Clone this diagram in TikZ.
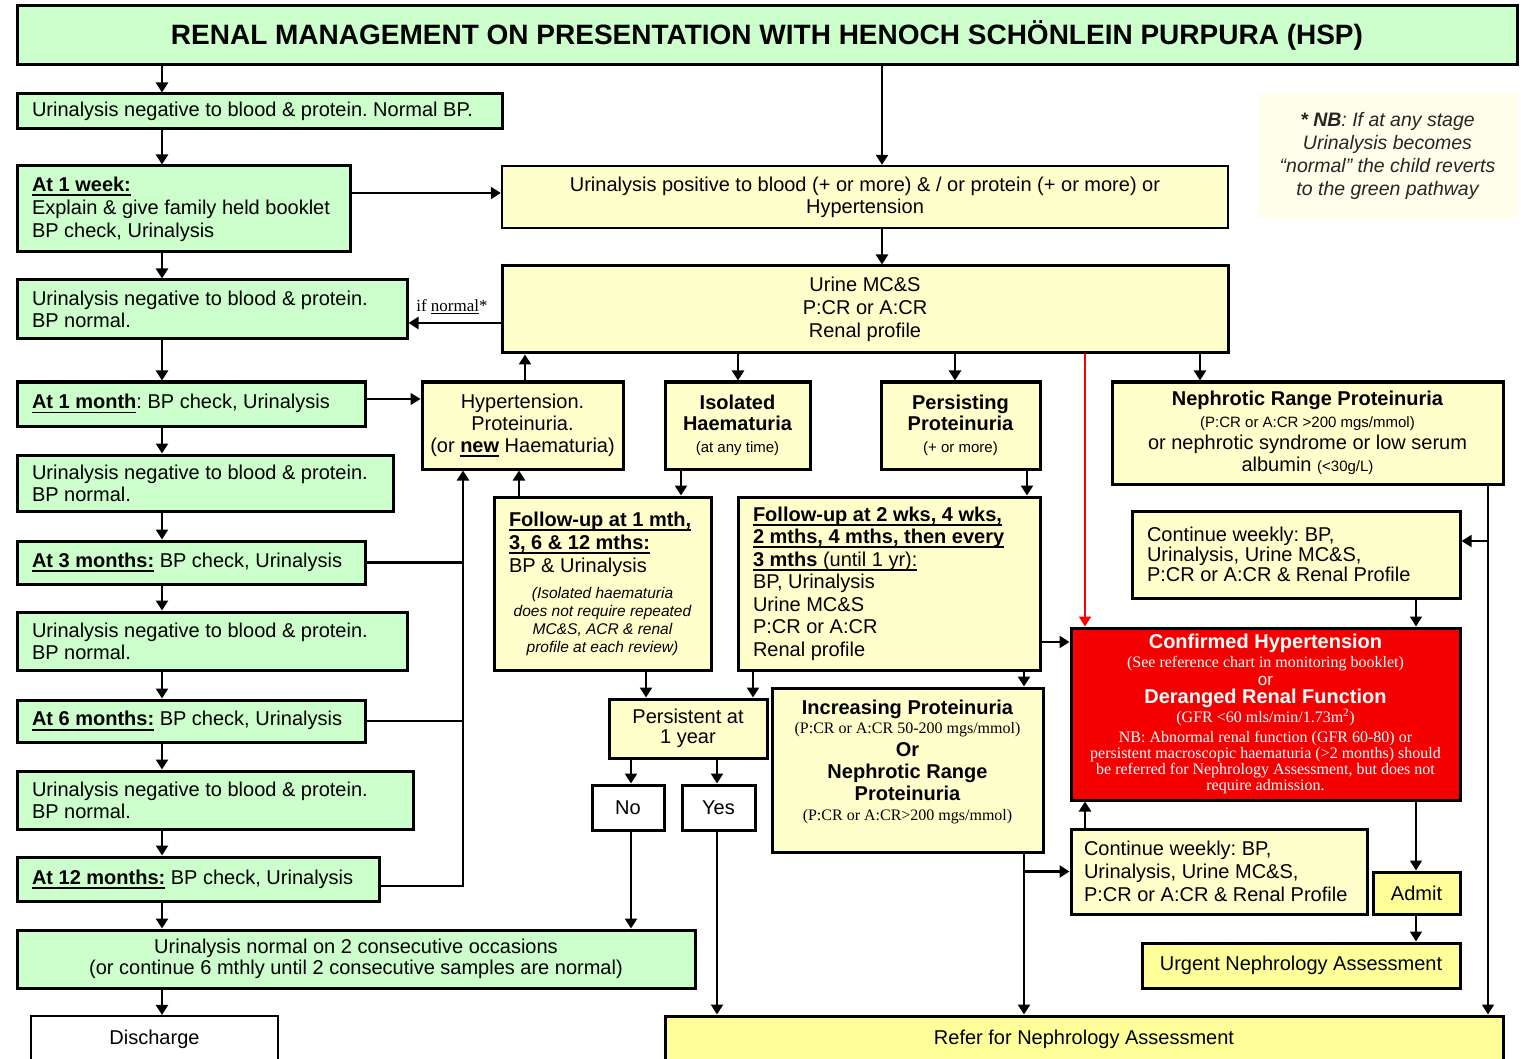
\documentclass[tikz,border=0pt]{standalone}
\usepackage{fontspec}
\setmainfont{Liberation Sans}
\newfontfamily\serfam{Liberation Serif}
\usetikzlibrary{arrows.meta,calc}
\definecolor{gfill}{RGB}{204,255,204}
\definecolor{yfill}{RGB}{255,255,204}
\definecolor{yfill2}{RGB}{255,255,153}
\definecolor{rfill}{RGB}{245,0,0}
\definecolor{notefill}{RGB}{254,254,234}
\newcommand{\setfs}[2]{\fontsize{#1}{#2}\selectfont}
% heavy underline sitting a little below the baseline
\newcommand{\uln}[1]{\leavevmode\setbox0\hbox{#1}\rlap{\rule[-4.5pt]{\wd0}{1.8pt}}\box0}
\frenchspacing
\hyphenpenalty=10000
\exhyphenpenalty=10000

\begin{document}
\begin{tikzpicture}[x=1pt,y=-1pt,
  box/.style={draw=black, line width=3pt, inner ysep=1pt, inner xsep=4pt, font=\setfs{20}{23}, text=black},
  gbox/.style={box, fill=gfill},
  ybox/.style={box, fill=yfill},
  bbox/.style={box, fill=yfill2},
  wbox/.style={box, fill=white},
  lft/.style={align=flush left, inner xsep=15pt, text width=#1pt},
  ctr/.style={align=flush center, text width=#1pt},
  arr/.style={line width=2.4pt, -{Triangle[length=10pt,width=12pt]}},
  tarr/.style={line width=1.5pt, -{Triangle[length=10pt,width=12pt]}},
  redarr/.style={line width=2pt, draw=red, -{Triangle[length=10pt,width=12pt]}},
  ln/.style={line width=2.4pt},
]
\fill[white] (0,0) rectangle (1524,1059);
\useasboundingbox (0,0) rectangle (1524,1059);

% ---------- title ----------
\node[gbox, minimum width=1500, minimum height=59, font=\setfs{28}{30}\bfseries] (title) at (767,35.5)
  {RENAL MANAGEMENT ON PRESENTATION WITH HENOCH SCHÖNLEIN PURPURA (HSP)};

% ---------- green pathway ----------
\node[gbox, lft=455, minimum width=485, minimum height=35] (b1) at (259.5,111.5)
  {Urinalysis negative to blood \& protein. Normal BP.};
\node[gbox, lft=303, minimum width=333, minimum height=86] (b2) at (183.5,209)
  {{\bfseries\uln{At 1 week:}}\\Explain \& give family held booklet\\BP check, Urinalysis};
\node[gbox, lft=360, minimum width=390, minimum height=59, font=\setfs{20}{22}] (b3) at (212,309.5)
  {Urinalysis negative to blood \& protein.\\BP normal.};
\node[gbox, lft=318, minimum width=348, minimum height=44] (b4) at (191,404)
  {{\bfseries\uln{At 1 month}}: BP check, Urinalysis};
\node[gbox, lft=346, minimum width=376, minimum height=56, font=\setfs{20}{22}] (b5) at (205,483)
  {Urinalysis negative to blood \& protein.\\BP normal.};
\node[gbox, lft=318, minimum width=348, minimum height=43] (b6) at (191,562.5)
  {{\bfseries\uln{At 3 months:}} BP check, Urinalysis};
\node[gbox, lft=360, minimum width=390, minimum height=58, font=\setfs{20}{22}] (b7) at (212,641)
  {Urinalysis negative to blood \& protein.\\BP normal.};
\node[gbox, lft=318, minimum width=348, minimum height=42] (b8) at (191,721)
  {{\bfseries\uln{At 6 months:}} BP check, Urinalysis};
\node[gbox, lft=366, minimum width=396, minimum height=58, font=\setfs{20}{22}] (b9) at (215,800)
  {Urinalysis negative to blood \& protein.\\BP normal.};
\node[gbox, lft=332, minimum width=362, minimum height=44] (b10) at (198,879)
  {{\bfseries\uln{At 12 months:}} BP check, Urinalysis};
\node[gbox, ctr=660, minimum width=678, minimum height=58, font=\setfs{20}{21}] (b11) at (356,959)
  {Urinalysis normal on 2 consecutive occasions\\(or continue 6 mthly until 2 consecutive samples are normal)};
\node[wbox, line width=2.2pt, minimum width=247, minimum height=47] (dis) at (154.5,1039.5) {Discharge};

% ---------- investigation ----------
\node[ybox, line width=2.4pt, ctr=700, minimum width=726, minimum height=62, font=\setfs{20}{22}] (upos) at (865,197)
  {Urinalysis positive to blood (+ or more) \& / or protein (+ or more) or\\Hypertension};
\node[ybox, ctr=700, minimum width=726, minimum height=87] (mcs) at (865,309.5)
  {Urine MC\&S\\P:CR or A:CR\\Renal profile};
\node[font=\serfam\setfs{17}{18}, anchor=base, inner sep=0pt] (ifn) at (452,312) {if \underline{normal}*};

\node[ybox, ctr=192, minimum width=201, minimum height=87, font=\setfs{20}{22}] (ht) at (522.5,425.5)
  {Hypertension.\\Proteinuria.\\(or {\bfseries\uln{new}} Haematuria)};
\node[ybox, ctr=135, minimum width=145, minimum height=87, font=\setfs{20}{21}] (iso) at (737.5,425.5)
  {{\bfseries Isolated\\Haematuria}\par{\setfs{15}{22}(at any time)\par}};
\node[ybox, ctr=150, minimum width=159, minimum height=87, font=\setfs{20}{21}] (pers) at (960.5,425.5)
  {{\bfseries Persisting\\Proteinuria}\par{\setfs{15}{22}(+ or more)\par}};
\node[ybox, ctr=380, minimum width=391, minimum height=102, font=\setfs{20}{22}] (neph) at (1307.5,433)
  {{\bfseries Nephrotic Range Proteinuria\par}
   {\setfs{15}{22}(P:CR or A:CR >200 mgs/mmol)\par}
   or nephrotic syndrome or low serum\\albumin {\setfs{15}{22}(<30g/L)}\par};

% ---------- follow-up ----------
\node[ybox, lft=187, minimum width=217, minimum height=173] (fu1) at (602.5,583.5)
  {{\bfseries\uln{Follow-up at 1 mth,}}\\{\bfseries\uln{3, 6 \& 12 mths:}}\\BP \& Urinalysis\par\vspace{8pt}
   {\centering\itshape\setfs{15.5}{18}(Isolated haematuria\\does not require repeated\\MC\&S, ACR \& renal\\profile at each review)\par}};
\node[ybox, lft=272, minimum width=302, minimum height=173, font=\setfs{20}{22.5}] (fu2) at (889,583.5)
  {{\bfseries\uln{Follow-up at 2 wks, 4 wks,}}\\{\bfseries\uln{2 mths, 4 mths, then every}}\\\uln{{\bfseries 3 mths} (until 1 yr):}\\BP, Urinalysis\\Urine MC\&S\\P:CR or A:CR\\Renal profile};
\node[ybox, ctr=150, minimum width=158, minimum height=59, font=\setfs{20}{20}] (p1y) at (688,728.5)
  {Persistent at\\1 year};
\node[wbox, minimum width=72, minimum height=45] (no) at (628,807.5) {No};
\node[wbox, minimum width=73, minimum height=45] (yes) at (718.5,807.5) {Yes};
\node[ybox, ctr=260, minimum width=271, minimum height=164] (inc) at (907.5,770)
  {{\bfseries Increasing Proteinuria\par}
   {\serfam\setfs{16}{19}(P:CR or A:CR 50-200 mgs/mmol)\par}
   {\bfseries\setfs{20}{23}Or\par}
   {\bfseries\setfs{20}{22}Nephrotic Range\\Proteinuria\par}
   {\serfam\setfs{16}{20}(P:CR or A:CR>200 mgs/mmol)\par}\vspace{16pt}};

% ---------- escalation ----------
\node[ybox, lft=298, minimum width=328, minimum height=87, font=\setfs{20}{20}] (cw1) at (1296,554.5)
  {Continue weekly: BP,\\Urinalysis, Urine MC\&S,\\P:CR or A:CR \& Renal Profile};
\node[box, fill=rfill, text=white, ctr=375, minimum width=389, minimum height=172] (red) at (1265.5,714)
  {{\bfseries Confirmed Hypertension\par}
   {\serfam\setfs{16}{19}(See reference chart in monitoring booklet)\par}
   {\setfs{17}{18}or\par}
   {\bfseries\setfs{20}{18}Deranged Renal Function\par}
   {\serfam\setfs{16}{19}(GFR <60 mls/min/1.73m\textsuperscript{2})\par}
   {\serfam\setfs{16}{20}NB: Abnormal renal function (GFR 60-80) or\par}
   {\serfam\setfs{16}{16}persistent macroscopic haematuria (>2 months) should\\be referred for Nephrology Assessment, but does not\\require admission.\par}};
\node[ybox, lft=270, inner xsep=13pt, minimum width=296, minimum height=85, font=\setfs{20}{23}] (cw2) at (1219,871.5)
  {Continue weekly: BP,\\Urinalysis, Urine MC\&S,\\P:CR or A:CR \& Renal Profile};
\node[bbox, minimum width=87, minimum height=42] (admit) at (1416.5,893) {Admit};
\node[bbox, minimum width=318, minimum height=45] (urg) at (1301,965.5) {Urgent Nephrology Assessment};
\node[bbox, minimum width=838, minimum height=47] (refer) at (1084,1039.5) {Refer for Nephrology Assessment};

% ---------- note ----------
\node[fill=notefill, minimum width=259, minimum height=124, align=flush center, text width=250pt,
      font=\setfs{19.5}{23}\itshape, text={black!85}] (note) at (1387.5,156)
  {{\bfseries * NB}: If at any stage\\Urinalysis becomes\\“normal” the child reverts\\to the green pathway};

% ---------- connector columns and rows ----------
\coordinate (cL) at (162,0);
\coordinate (cMain) at (882,0);
\coordinate (cHT) at (525,0);
\coordinate (cIso) at (738,0);
\coordinate (cPer) at (955,0);
\coordinate (cNep) at (1200,0);
\coordinate (cRed) at (1085,0);
\coordinate (cNr) at (1488,0);
\coordinate (cHin) at (463,0);
\coordinate (cFup) at (519,0);
\coordinate (cIdn) at (681,0);
\coordinate (cPdn) at (1027,0);
\coordinate (cFa) at (646,0);
\coordinate (cFb) at (753,0);
\coordinate (cNo) at (631,0);
\coordinate (cYes) at (717,0);
\coordinate (cInc) at (1024,0);
\coordinate (cAdm) at (1416,0);
\coordinate (rB2) at (0,193);
\coordinate (rIfn) at (0,323);
\coordinate (rB4) at (0,399);
\coordinate (rB10) at (0,886);
\coordinate (rFu) at (0,642);
\coordinate (rCw) at (0,541);

% ---------- connectors ----------
\foreach \a/\b in {title/b1,b1/b2,b2/b3,b3/b4,b4/b5,b5/b6,b6/b7,b7/b8,b8/b9,b9/b10,b10/b11,b11/dis}
  \draw[arr] (\a.south -| cL) -- (\b.north -| cL);
\draw[arr] (title.south -| cMain) -- (upos.north -| cMain);
\draw[arr] (upos.south -| cMain) -- (mcs.north -| cMain);
\draw[arr] (b2.east |- rB2) -- (upos.west |- rB2);
\draw[arr] (mcs.west |- rIfn) -- (b3.east |- rIfn);
\draw[arr] (ht.north -| cHT) -- (mcs.south -| cHT);
\draw[arr] (mcs.south -| cIso) -- (iso.north -| cIso);
\draw[arr] (mcs.south -| cPer) -- (pers.north -| cPer);
\draw[arr] (mcs.south -| cNep) -- (neph.north -| cNep);
\draw[redarr] (mcs.south -| cRed) -- (red.north -| cRed);
\draw[tarr] (b4.east |- rB4) -- (ht.west |- rB4);
\draw[ln] (b6.east) -- (b6.east -| cHin);
\draw[ln] (b8.east) -- (b8.east -| cHin);
\draw[arr] (b10.east |- rB10) -| (ht.south -| cHin);
\draw[arr] (fu1.north -| cFup) -- (ht.south -| cFup);
\draw[arr] (iso.south -| cIdn) -- (fu1.north -| cIdn);
\draw[arr] (pers.south -| cPdn) -- (fu2.north -| cPdn);
\draw[arr] (fu2.east |- rFu) -- (red.west |- rFu);
\draw[arr] (fu2.south -| cInc) -- (inc.north -| cInc);
\draw[arr] (fu1.south -| cFa) -- (p1y.north -| cFa);
\draw[arr] (fu2.south -| cFb) -- (p1y.north -| cFb);
\draw[arr] (p1y.south -| cNo) -- (no.north -| cNo);
\draw[arr] (p1y.south -| cYes) -- (yes.north -| cYes);
\draw[arr] (no.south -| cNo) -- (b11.north -| cNo);
\draw[arr] (yes.south -| cYes) -- (refer.north -| cYes);
\draw[arr] (inc.south -| cInc) -- (refer.north -| cInc);
\draw[arr] (cw2.west -| cInc) -- (cw2.west);
\draw[tarr] (neph.south -| cNr) -- (refer.north -| cNr);
\draw[tarr] (cNr |- rCw) -- (cw1.east |- rCw);
\draw[tarr] (cw1.south -| cAdm) -- (red.north -| cAdm);
\draw[arr] (cw2.north -| cRed) -- (red.south -| cRed);
\draw[tarr] (red.south -| cAdm) -- (admit.north -| cAdm);
\draw[tarr] (admit.south -| cAdm) -- (urg.north -| cAdm);
\end{tikzpicture}
\end{document}
